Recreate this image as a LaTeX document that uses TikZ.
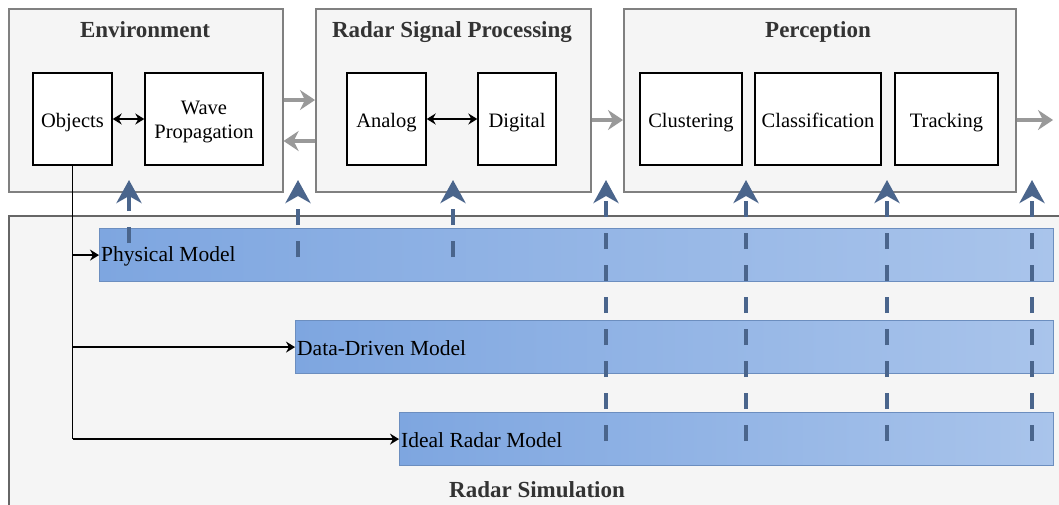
\documentclass[tikz,border=0pt]{standalone}
\usepackage{fontspec}
\setmainfont{Liberation Serif}
\usetikzlibrary{arrows.meta}
\definecolor{contfill}{HTML}{F5F5F5}
\definecolor{contline}{HTML}{808080}
\definecolor{titlecol}{HTML}{333333}
\definecolor{barleft}{HTML}{7EA6E0}
\definecolor{barright}{HTML}{A9C4EB}
\definecolor{barline}{HTML}{6C8EBF}
\definecolor{arrblue}{RGB}{74,101,140}
\definecolor{arrgray}{HTML}{999999}
\tikzset{
  cont/.style={draw=contline, fill=contfill, line width=1.6, anchor=north west, inner sep=0},
  ttl/.style={text=titlecol, font=\fontsize{23}{26}\selectfont\bfseries, inner sep=0, anchor=base},
  inbox/.style={draw=black, fill=white, line width=1.4, minimum height=92, inner sep=0},
  boxtext/.style={inner sep=0, font=\fontsize{20.5}{24}\selectfont, align=center},
  linetext/.style={inner sep=0, font=\fontsize{20.5}{24}\selectfont, anchor=base},
  bar/.style={draw=barline, line width=1.2, left color=barleft, right color=barright, anchor=north west, minimum height=53, inner sep=0},
  bartext/.style={anchor=west, inner sep=2, font=\fontsize{21.5}{24}\selectfont},
  grayarr/.style={draw=arrgray, line width=4, -{Stealth[length=15,width=20,inset=5]}},
  blkarr/.style={draw=black, line width=1.5, -{Stealth[length=9,width=11,inset=3]}},
  dblarr/.style={draw=black, line width=1.5, {Stealth[length=9,width=11,inset=3]}-{Stealth[length=9,width=11,inset=3]}},
  bluearr/.style={draw=arrblue, line width=4.5, dash pattern=on 16 off 16, -{Stealth[length=23,width=25,inset=7]}},
}
\begin{document}
\begin{tikzpicture}[x=1pt,y=-1pt]
\useasboundingbox (0,0) rectangle (1059,504);
\fill[white] (0,0) rectangle (1059,504);

% Radar simulation container
\node[cont, draw=contline!80!black, minimum width=1070, minimum height=300] (sim) at (8,215) {};
\node[ttl] (simt) at (537,497) {Radar Simulation};

% top containers
\node[cont, minimum width=274, minimum height=183] (env) at (8,8) {};
\node[cont, minimum width=275, minimum height=183] (rsp) at (315,8) {};
\node[cont, minimum width=392, minimum height=183] (perc) at (623,8) {};
\node[ttl] (envt) at (145,37.5) {Environment};
\node[ttl] (rspt) at (452,37.5) {Radar Signal Processing};
\node[ttl] (perct) at (818,37.5) {Perception};

% inner boxes
\node[inbox, minimum width=79] (obj) at (72.5,119) {};
\node[inbox, minimum width=118] (wave) at (204,119) {};
\node[inbox, minimum width=79] (ana) at (386.5,119) {};
\node[inbox, minimum width=78] (dig) at (517,119) {};
\node[inbox, minimum width=102] (clu) at (691,119) {};
\node[inbox, minimum width=126] (cla) at (818,119) {};
\node[inbox, minimum width=103] (tra) at (946.5,119) {};
\coordinate (bl) at (0,127.5);
\node[linetext] (objt) at (obj.center |- bl) {Objects};
\node[boxtext] (wavet) at ([yshift=-3]wave.center) {Wave\\Propagation};
\node[linetext] (anat) at (ana.center |- bl) {Analog};
\node[linetext] (digt) at (dig.center |- bl) {Digital};
\node[linetext] (clut) at (clu.center |- bl) {Clustering};
\node[linetext] (clat) at (cla.center |- bl) {Classification};
\node[linetext] (trat) at (tra.center |- bl) {Tracking};

\draw[dblarr] (obj.east) -- (wave.west);
\draw[dblarr] (ana.east) -- (dig.west);

% gray flow arrows
\draw[grayarr] (env.east |- 0,100) -- (rsp.west |- 0,100);
\draw[grayarr] (rsp.west |- 0,141) -- (env.east |- 0,141);
\draw[grayarr] (rsp.east |- 0,120) -- (perc.west |- 0,120);
\coordinate (out) at (1053,120);
\draw[grayarr] (perc.east |- out) -- (out);

% model bars
\node[bar, minimum width=954] (phys) at (99,228) {};
\node[bar, minimum width=758] (data) at (295,320) {};
\node[bar, minimum width=654] (ideal) at (399,412) {};
\node[bartext] (physt) at ([yshift=-1]phys.west) {Physical Model};
\node[bartext] (datat) at ([yshift=-1]data.west) {Data-Driven Model};
\node[bartext] (idealt) at ([yshift=-1]ideal.west) {Ideal Radar Model};

% objects feed lines
\draw[line width=1.5] (obj.south) -- (obj.south |- ideal.west);
\draw[blkarr] (obj.south |- phys.west) -- (phys.west);
\draw[blkarr] (obj.south |- data.west) -- (data.west);
\draw[blkarr] (obj.south |- ideal.west) -- (ideal.west);

% dashed blue arrows
\foreach \x/\y [count=\i] in {129/243, 298/257, 453/257, 606/441, 746/441, 887/441, 1032/441}{
  \coordinate (b\i) at (\x,\y);
  \coordinate (t\i) at (\x,180);
  \draw[bluearr] (b\i) -- (t\i);
}
\end{tikzpicture}
\end{document}
